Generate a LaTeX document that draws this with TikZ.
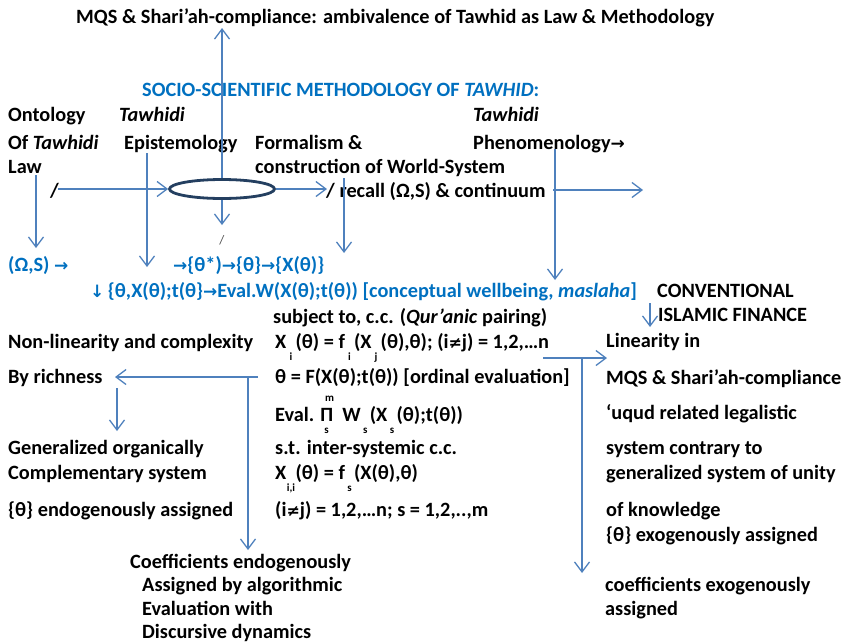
\documentclass[tikz,border=0pt]{standalone}
\usepackage{fontspec}
\setmainfont{Carlito}
\newfontfamily\symf{DejaVu Sans}
\usetikzlibrary{arrows.meta,shapes.geometric}
\definecolor{tblue}{HTML}{0070C0}
\definecolor{lblue}{HTML}{4F81BD}
\definecolor{navy}{HTML}{243F60}
\newcommand{\ra}{{\symf\fontsize{17}{17}\selectfont →}}
\newcommand{\da}{{\symf\fontsize{17}{17}\selectfont ↓}}
\newcommand{\nq}{{\symf\fontsize{16}{16}\selectfont ≠}}
\newcommand{\lo}[1]{\makebox[0.45em][c]{\raisebox{-12pt}{\fontsize{11}{11}\selectfont #1}}}
\newcommand{\PiL}{\rlap{\hbox to 0.9em{\hss\raisebox{20pt}{\fontsize{11}{11}\selectfont m}\hss}}\rlap{\hbox to 0.6em{\hss\raisebox{-12pt}{\fontsize{11}{11}\selectfont s}\hss}}Π}
\begin{document}
\begin{tikzpicture}[x=1pt,y=-1pt,
  txt/.style={anchor=base west,inner sep=0pt,font=\fontsize{20.3}{24}\selectfont\bfseries},
  btxt/.style={txt,text=tblue},
  conn/.style={draw=lblue,line width=1.3pt,-{Straight Barb[length=10pt,width=15pt]}},
  plain/.style={draw=lblue,line width=1.3pt}]
\useasboundingbox (0,0) rectangle (846,643);
% ellipse
\node[ellipse,draw=navy,line width=2.8pt,fill=white,minimum width=105pt,minimum height=19pt,inner sep=0pt] (ell) at (222,189) {};
% texts
\node[txt] (title) at (76,23) {MQS \& Shari’ah-compliance: ambivalence of Tawhid as Law \& Methodology};
\node[btxt] (head) at (142,96) {SOCIO-SCIENTIFIC METHODOLOGY OF \textit{TAWHID}:};
\node[txt] (ont1) at (8,121) {Ontology};
\node[txt] (ont2) at (8,149) {Of \textit{Tawhidi}};
\node[txt] (ont3) at (8,173) {Law};
\node[txt] (ep1) at (119,121) {\textit{Tawhidi}};
\node[txt] (ep2) at (124,149) {Epistemology};
\node[txt] (fo1) at (255,149) {Formalism \&};
\node[txt] (fo2) at (255,173) {construction of World-System};
\node[txt] (ph1) at (473,121) {\textit{Tawhidi}};
\node[txt] (ph2) at (473,149) {Phenomenology\ra};
\node[txt] (sl1) at (50,197) {/};
\node[txt] (rec) at (326,197) {/ recall (Ω,S) \& continuum};
\node[anchor=base,inner sep=0pt,font=\fontsize{13}{13}\selectfont,text=black!70] (sl2) at (222,244) {/};
\node[btxt] (os) at (8,271) {(Ω,S) \ra};
\node[btxt] (th) at (173,271) {\ra\{θ*)\ra\{θ\}\ra\{X(θ)\}};
\node[btxt] (ev) at (90,297) {\da\,\{θ,X(θ);t(θ\}\ra Eval.W(X(θ);t(θ)) [conceptual wellbeing, \textit{maslaha}]};
\node[txt] (conv) at (657,297) {CONVENTIONAL};
\node[txt] (isl) at (658,321) {ISLAMIC FINANCE};
\node[txt] (subj) at (273,323) {subject to, c.c. (\textit{Qur’anic} pairing)};
\node[txt] (nl) at (8,348) {Non-linearity and complexity};
\node[txt] (eq1) at (275,348) {X\lo{i}(θ) = f\lo{i}(X\lo{j}(θ),θ); (i\nq j) = 1,2,…n};
\node[txt] (lin1) at (606,347) {Linearity in};
\node[txt] (rich) at (8,383) {By richness};
\node[txt] (eq2) at (275,383) {θ = F(X(θ);t(θ)) [ordinal evaluation]};
\node[txt] (lin2) at (606,384) {MQS \& Shari’ah-compliance};
\node[txt] (eq3) at (275,421) {Eval. \PiL\hspace{0.45em}W\lo{s}(X\lo{s}(θ);t(θ))};
\node[txt] (lin3) at (606,419) {‘uqud related legalistic};
\node[txt] (gen1) at (8,454) {Generalized organically};
\node[txt] (eq4) at (275,454) {s.t. inter-systemic c.c.};
\node[txt] (lin4) at (606,454) {system contrary to};
\node[txt] (gen2) at (8,479) {Complementary system};
\node[txt] (eq5) at (275,479) {X\lo{i,i}(θ) = f\lo{s}(X(θ),θ)};
\node[txt] (lin5) at (606,479) {generalized system of unity};
\node[txt] (gen3) at (8,516) {\{θ\} endogenously assigned};
\node[txt] (eq6) at (275,516) {(i\nq j) = 1,2,…n; s = 1,2,..,m};
\node[txt] (lin6) at (606,516) {of knowledge};
\node[txt] (lin7) at (606,541) {\{θ\} exogenously assigned};
\node[txt] (coe1) at (130,568) {Coefficients endogenously};
\node[txt] (coe2) at (142,591) {Assigned by algorithmic};
\node[txt] (coe3) at (142,615) {Evaluation with};
\node[txt] (coe4) at (142,638) {Discursive dynamics};
\node[txt] (cx1) at (605,591) {coefficients exogenously};
\node[txt] (cx2) at (605,615) {assigned};
% coordinates
\coordinate (upTip) at (222,28);
\coordinate (dnTip) at (222,225);
\coordinate (lStart) at (58,189);
\coordinate (rEnd) at (327,189);
\coordinate (pS) at (553,190);
\coordinate (pE) at (643,190);
\coordinate (a1s) at (36,175);
\coordinate (a1e) at (36,248);
\coordinate (a2s) at (147,153);
\coordinate (a2e) at (147,267);
\coordinate (a3s) at (344,178);
\coordinate (a3e) at (344,253);
\coordinate (a4s) at (555,149);
\coordinate (a4e) at (555,280);
\coordinate (a5s) at (650,303);
\coordinate (a5e) at (650,327);
\coordinate (b1s) at (258,377);
\coordinate (b1e) at (115,377);
\coordinate (b2s) at (248,377);
\coordinate (b2e) at (248,550);
\coordinate (b3s) at (117,388);
\coordinate (b3e) at (117,431);
\coordinate (c1s) at (543,358);
\coordinate (c1e) at (607,358);
\coordinate (c2s) at (582,358);
\coordinate (c2e) at (582,573);
% connectors
\draw[conn] (ell.north) -- (upTip);
\draw[conn] (ell.south) -- (dnTip);
\draw[conn] (lStart) -- (ell.west);
\draw[conn] (ell.east) -- (rEnd);
\draw[conn] (pS) -- (pE);
\draw[conn] (a1s) -- (a1e);
\draw[conn] (a2s) -- (a2e);
\draw[conn] (a3s) -- (a3e);
\draw[conn] (a4s) -- (a4e);
\draw[conn] (a5s) -- (a5e);
\draw[conn] (b1s) -- (b1e);
\draw[conn] (b2s) -- (b2e);
\draw[conn] (b3s) -- (b3e);
\draw[conn] (c1s) -- (c1e);
\draw[conn] (c2s) -- (c2e);
\end{tikzpicture}
\end{document}
